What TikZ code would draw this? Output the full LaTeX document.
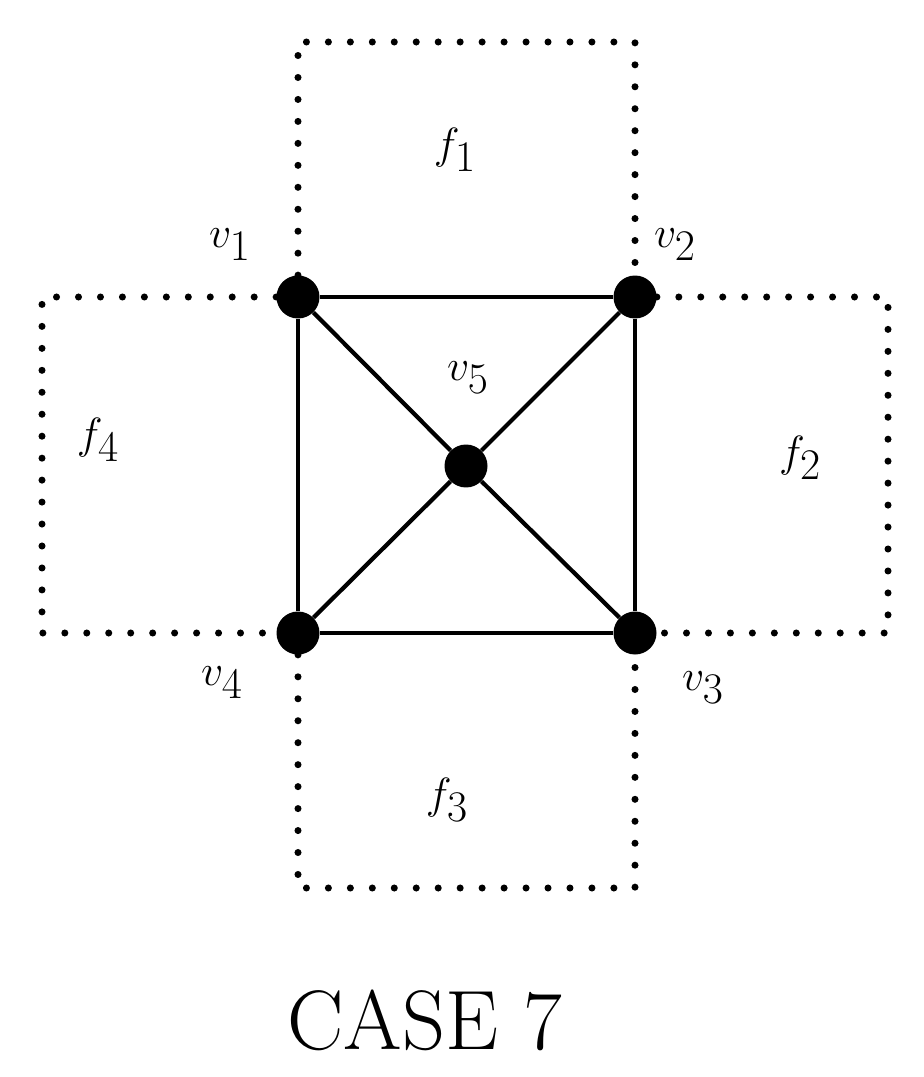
\documentclass[tikz,border=0pt]{standalone}
\begin{document}
\begin{tikzpicture}[x=0.02cm,y=-0.02cm,
  vtx/.style={circle,fill=black,inner sep=0pt,minimum size=0.86cm},
  edge/.style={line width=2.4pt},
  face/.style={line width=4pt,line cap=round,dash pattern=on 0pt off 12.5pt},
  lbl/.style={font=\fontsize{44}{52}\selectfont}]
\useasboundingbox (0,0) rectangle (923,1077);
\node[vtx] (v1) at (298,297) {};
\node[vtx] (v2) at (635,297) {};
\node[vtx] (v3) at (635,633) {};
\node[vtx] (v4) at (298,633) {};
\node[vtx] (v5) at (466,466) {};
\coordinate (a1) at (298,42); \coordinate (a2) at (635,42);
\coordinate (b1) at (888,297); \coordinate (b2) at (888,633);
\coordinate (c1) at (298,888); \coordinate (c2) at (635,888);
\coordinate (d1) at (42,297); \coordinate (d2) at (42,633);
\draw[face] (v1) -- (a1) -- (a2) -- (v2);
\draw[face] (v2) -- (b1) -- (b2) -- (v3);
\draw[face] (v4) -- (c1) -- (c2) -- (v3);
\draw[face] (v1) -- (d1) -- (d2) -- (v4);
\draw[edge] (v1) -- (v2) -- (v3) -- (v4) -- (v1);
\draw[edge] (v1) -- (v5) -- (v3);
\draw[edge] (v2) -- (v5) -- (v4);
\node[lbl] (l1) at (230,245) {$v_1$};
\node[lbl] (l2) at (675,245) {$v_2$};
\node[lbl] (l3) at (703,688) {$v_3$};
\node[lbl] (l4) at (222,683) {$v_4$};
\node[lbl] (l5) at (468,378) {$v_5$};
\node[lbl] (f1) at (455,150) {$f_1$};
\node[lbl] (f2) at (800,458) {$f_2$};
\node[lbl] (f3) at (447,800) {$f_3$};
\node[lbl] (f4) at (98,440) {$f_4$};
\node[font=\fontsize{48}{58}\selectfont] (c) at (425,1020) {CASE 7};
\end{tikzpicture}
\end{document}
